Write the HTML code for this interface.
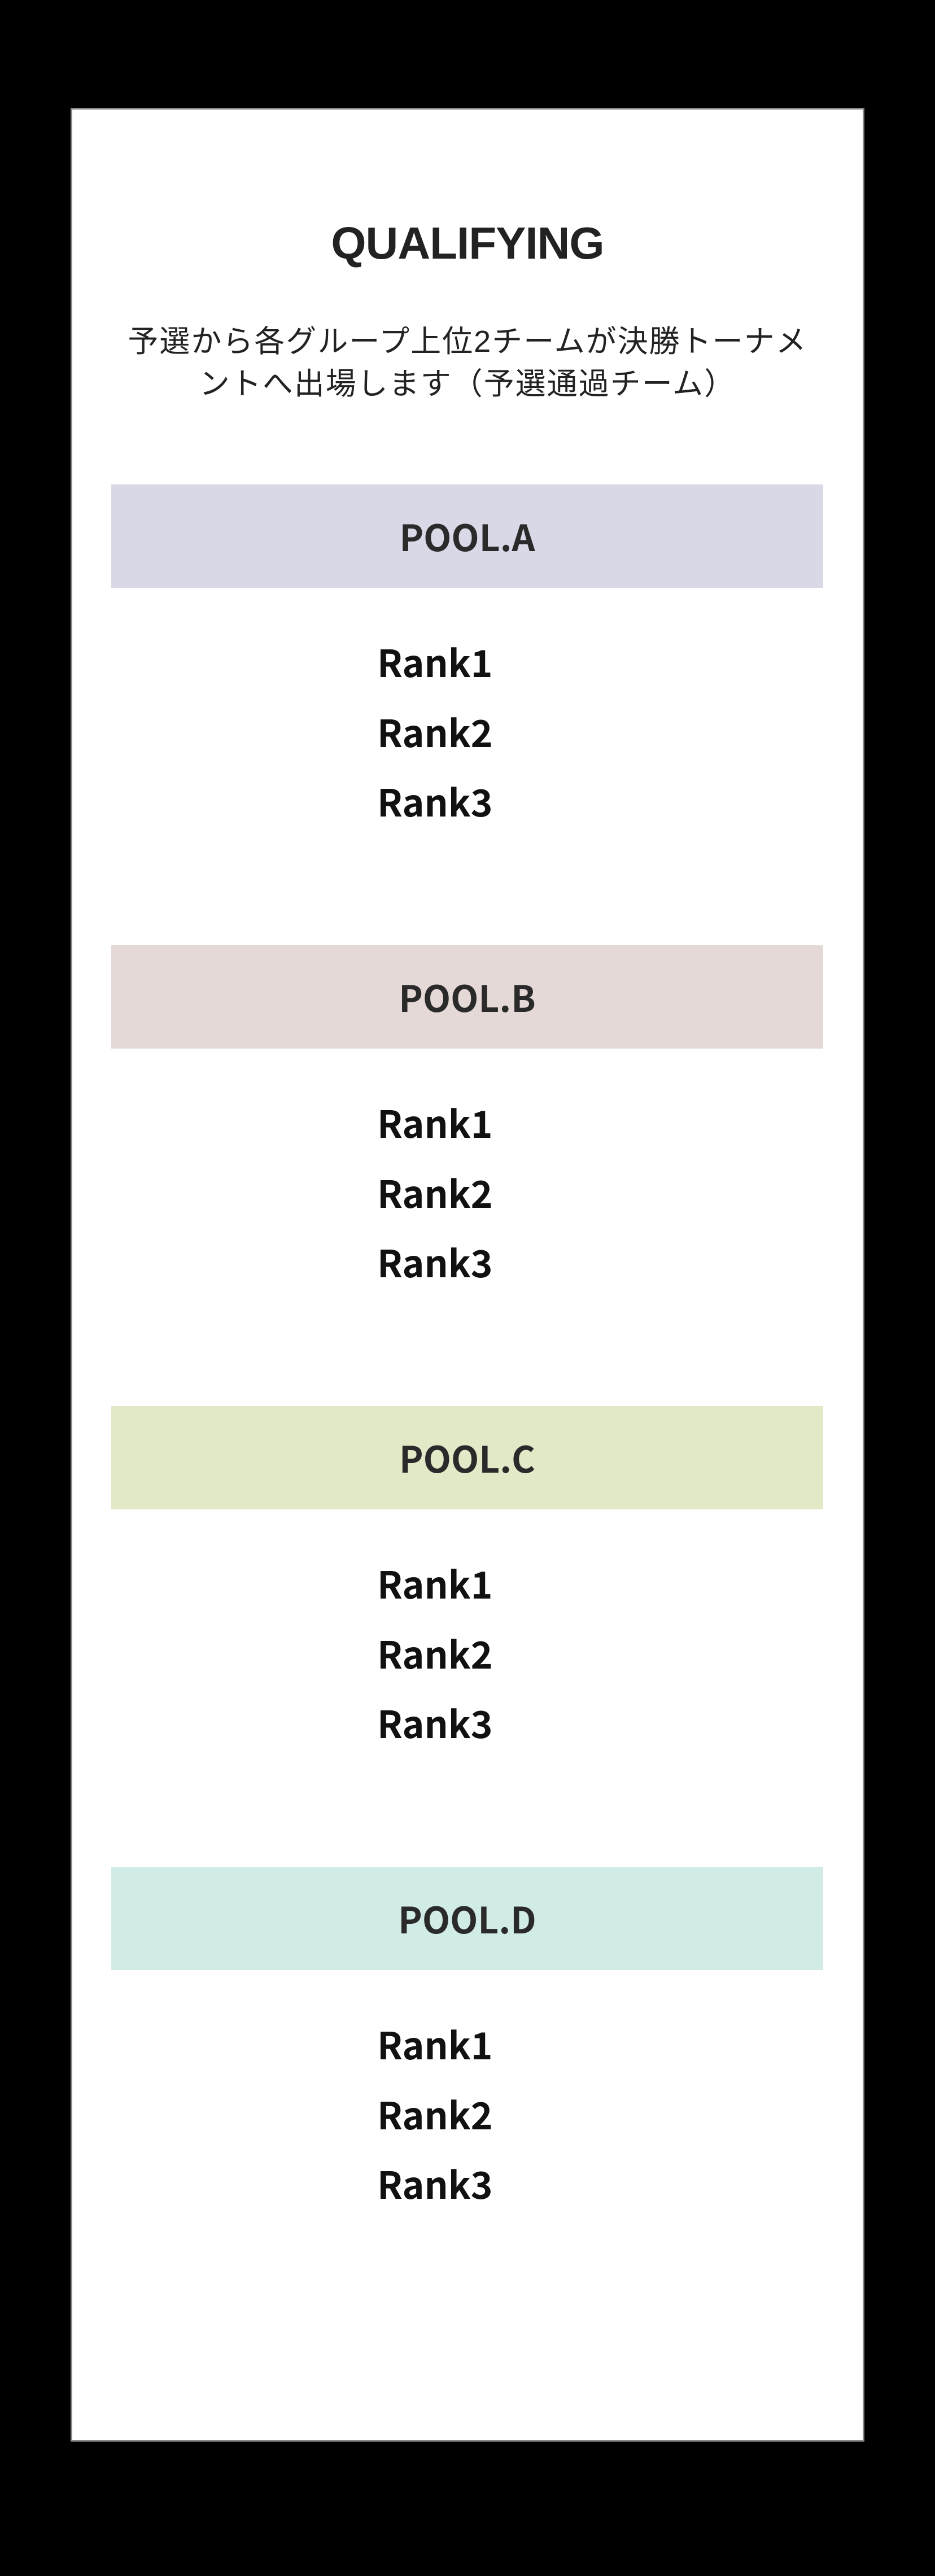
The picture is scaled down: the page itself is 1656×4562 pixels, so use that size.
<!DOCTYPE html>
<html><head><meta charset="utf-8"><style>
html,body{margin:0;padding:0;background:#000;}
body{width:1656px;height:4562px;position:relative;overflow:hidden;}
.card{position:absolute;left:125px;top:191px;width:1400px;height:4127px;background:#fff;border:3px solid #8a8a8a;}
.t{position:absolute;left:0;width:1656px;text-align:center;}
.title{top:391px;height:80px;font:bold 80px "Liberation Sans",sans-serif;line-height:80px;color:#222;letter-spacing:-1px;}
.jp{font-family:"Liberation Sans","Noto Sans CJK JP",sans-serif;font-size:54px;color:#222;letter-spacing:2px;line-height:75px;}
.pool{position:absolute;left:197px;width:1261px;height:183px;text-align:center;font:bold 64px "Noto Sans CJK JP","Liberation Sans",sans-serif;line-height:183px;color:#2a2a2a;}
.rank{position:absolute;left:668px;height:90px;font:bold 66px "Noto Sans CJK JP","Liberation Sans",sans-serif;line-height:90px;color:#111;}
</style></head><body>
<div class="card"></div>
<div class="t title">QUALIFYING</div>
<div class="t jp" style="top:568px;">予選から各グループ上位2チームが決勝トーナメ</div>
<div class="t jp" style="top:643px;">ントへ出場します（予選通過チーム）</div>

<div class="pool" style="top:858px;background:#d9d8e6;">POOL.A</div>
<div class="rank" style="top:1126px;">Rank1</div>
<div class="rank" style="top:1250px;">Rank2</div>
<div class="rank" style="top:1373px;">Rank3</div>

<div class="pool" style="top:1674px;background:#e5d9d7;">POOL.B</div>
<div class="rank" style="top:1942px;">Rank1</div>
<div class="rank" style="top:2066px;">Rank2</div>
<div class="rank" style="top:2189px;">Rank3</div>

<div class="pool" style="top:2490px;background:#e2e9c7;">POOL.C</div>
<div class="rank" style="top:2758px;">Rank1</div>
<div class="rank" style="top:2882px;">Rank2</div>
<div class="rank" style="top:3005px;">Rank3</div>

<div class="pool" style="top:3306px;background:#d1ece7;">POOL.D</div>
<div class="rank" style="top:3574px;">Rank1</div>
<div class="rank" style="top:3698px;">Rank2</div>
<div class="rank" style="top:3821px;">Rank3</div>
</body></html>
